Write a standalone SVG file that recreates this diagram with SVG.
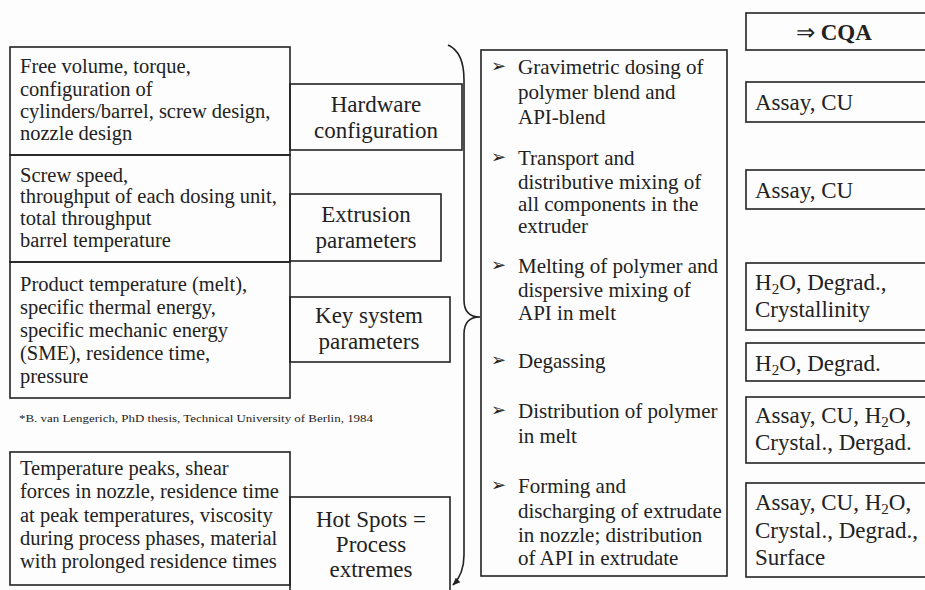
<svg xmlns="http://www.w3.org/2000/svg" width="925" height="590" viewBox="0 0 925 590" font-family="Liberation Serif, serif">
<defs>
<style>
.b{fill:none;stroke:#222;stroke-width:1.6}
text{fill:#222}
.t{font-size:20.5px}
.l{font-size:23px;text-anchor:middle}
.m{font-size:21px}
.r{font-size:23px}
.s{font-size:18px}
</style>
<marker id="ah" viewBox="0 0 10 10" refX="9" refY="5" markerWidth="8" markerHeight="8" orient="auto" markerUnits="userSpaceOnUse">
<path d="M0,1 L10,5 L0,9 Z" fill="#222"/>
</marker>
</defs>
<rect width="925" height="590" fill="#fdfdfd"/>

<g id="connectors">
<path class="b" d="M448,45 Q464,52 464,80 L464,300 Q464,317 480,317 Q464,317 464,334 L464,555 Q464,574 453,585" marker-end="url(#ah)"/>
</g>

<g id="box-hardware-desc">
<rect class="b" x="10" y="47" width="280" height="108"/>
<text class="t" x="20" y="73">Free volume, torque,</text>
<text class="t" x="20" y="96">configuration of</text>
<text class="t" x="20" y="118">cylinders/barrel, screw design,</text>
<text class="t" x="20" y="140">nozzle design</text>
</g>
<g id="label-hardware">
<rect class="b" x="290" y="84" width="172" height="66"/>
<text class="l" x="376" y="112">Hardware</text>
<text class="l" x="376" y="138">configuration</text>
</g>

<g id="box-extrusion-desc">
<rect class="b" x="10" y="155" width="280" height="107"/>
<text class="t" x="20" y="182">Screw speed,</text>
<text class="t" x="20" y="203">throughput of each dosing unit,</text>
<text class="t" x="20" y="225">total throughput</text>
<text class="t" x="20" y="247">barrel temperature</text>
</g>
<g id="label-extrusion">
<rect class="b" x="290" y="194" width="151" height="67"/>
<text class="l" x="366" y="222">Extrusion</text>
<text class="l" x="366" y="248">parameters</text>
</g>

<g id="box-key-desc">
<rect class="b" x="10" y="262" width="280" height="136"/>
<text class="t" x="20" y="291">Product temperature (melt),</text>
<text class="t" x="20" y="314">specific thermal energy,</text>
<text class="t" x="20" y="337">specific mechanic energy</text>
<text class="t" x="20" y="360">(SME), residence time,</text>
<text class="t" x="20" y="383">pressure</text>
</g>
<g id="label-key">
<rect class="b" x="290" y="297" width="160" height="65"/>
<text class="l" x="369" y="323">Key system</text>
<text class="l" x="369" y="349">parameters</text>
</g>

<g id="footnote">
<text x="19" y="422" font-size="10.5" fill="#555" textLength="354" lengthAdjust="spacingAndGlyphs">*B. van Lengerich, PhD thesis, Technical University of Berlin, 1984</text>
</g>

<g id="box-hotspots-desc">
<rect class="b" x="10" y="452" width="280" height="133"/>
<text class="t" x="20" y="475">Temperature peaks, shear</text>
<text class="t" x="20" y="498">forces in nozzle, residence time</text>
<text class="t" x="20" y="522">at peak temperatures, viscosity</text>
<text class="t" x="20" y="545">during process phases, material</text>
<text class="t" x="20" y="568">with prolonged residence times</text>
</g>
<g id="label-hotspots">
<rect class="b" x="290" y="497" width="160" height="100"/>
<text class="l" x="371" y="527">Hot Spots =</text>
<text class="l" x="371" y="552">Process</text>
<text class="l" x="371" y="577">extremes</text>
</g>

<g id="process-steps">
<rect class="b" x="481" y="50" width="246" height="526"/>
<text font-family="DejaVu Sans" class="s" x="491" y="72">➢</text><text class="m" x="518" y="74">Gravimetric dosing of</text>
<text class="m" x="518" y="99">polymer blend and</text>
<text class="m" x="518" y="124">API-blend</text>
<text font-family="DejaVu Sans" class="s" x="491" y="163">➢</text><text class="m" x="518" y="165">Transport and</text>
<text class="m" x="518" y="189">distributive mixing of</text>
<text class="m" x="518" y="211">all components in the</text>
<text class="m" x="518" y="233">extruder</text>
<text font-family="DejaVu Sans" class="s" x="491" y="271">➢</text><text class="m" x="518" y="273">Melting of polymer and</text>
<text class="m" x="518" y="297">dispersive mixing of</text>
<text class="m" x="518" y="320">API in melt</text>
<text font-family="DejaVu Sans" class="s" x="491" y="366">➢</text><text class="m" x="518" y="368">Degassing</text>
<text font-family="DejaVu Sans" class="s" x="491" y="416">➢</text><text class="m" x="518" y="418">Distribution of polymer</text>
<text class="m" x="518" y="443">in melt</text>
<text font-family="DejaVu Sans" class="s" x="491" y="491">➢</text><text class="m" x="518" y="493">Forming and</text>
<text class="m" x="518" y="518">discharging of extrudate</text>
<text class="m" x="518" y="542">in nozzle; distribution</text>
<text class="m" x="518" y="565">of API in extrudate</text>
</g>

<g id="cqa-header">
<rect class="b" x="746" y="13" width="185" height="37"/>
<text class="r" x="796" y="40">⇒ <tspan font-weight="bold">CQA</tspan></text>
</g>
<g id="cqa-1">
<rect class="b" x="746" y="82" width="185" height="40"/>
<text class="r" x="755" y="110">Assay, CU</text>
</g>
<g id="cqa-2">
<rect class="b" x="746" y="170" width="185" height="39"/>
<text class="r" x="755" y="198">Assay, CU</text>
</g>
<g id="cqa-3">
<rect class="b" x="746" y="263" width="185" height="67"/>
<text class="r" x="755" y="290">H<tspan font-size="15" dy="4">2</tspan><tspan dy="-4">O, Degrad.,</tspan></text>
<text class="r" x="755" y="317">Crystallinity</text>
</g>
<g id="cqa-4">
<rect class="b" x="746" y="343" width="185" height="38"/>
<text class="r" x="755" y="371">H<tspan font-size="15" dy="4">2</tspan><tspan dy="-4">O, Degrad.</tspan></text>
</g>
<g id="cqa-5">
<rect class="b" x="746" y="397" width="185" height="66"/>
<text class="r" x="755" y="423">Assay, CU, H<tspan font-size="15" dy="4">2</tspan><tspan dy="-4">O,</tspan></text>
<text class="r" x="755" y="450">Crystal., Dergad.</text>
</g>
<g id="cqa-6">
<rect class="b" x="746" y="483" width="185" height="94"/>
<text class="r" x="755" y="510">Assay, CU, H<tspan font-size="15" dy="4">2</tspan><tspan dy="-4">O,</tspan></text>
<text class="r" x="755" y="538">Crystal., Degrad.,</text>
<text class="r" x="755" y="565">Surface</text>
</g>
</svg>
